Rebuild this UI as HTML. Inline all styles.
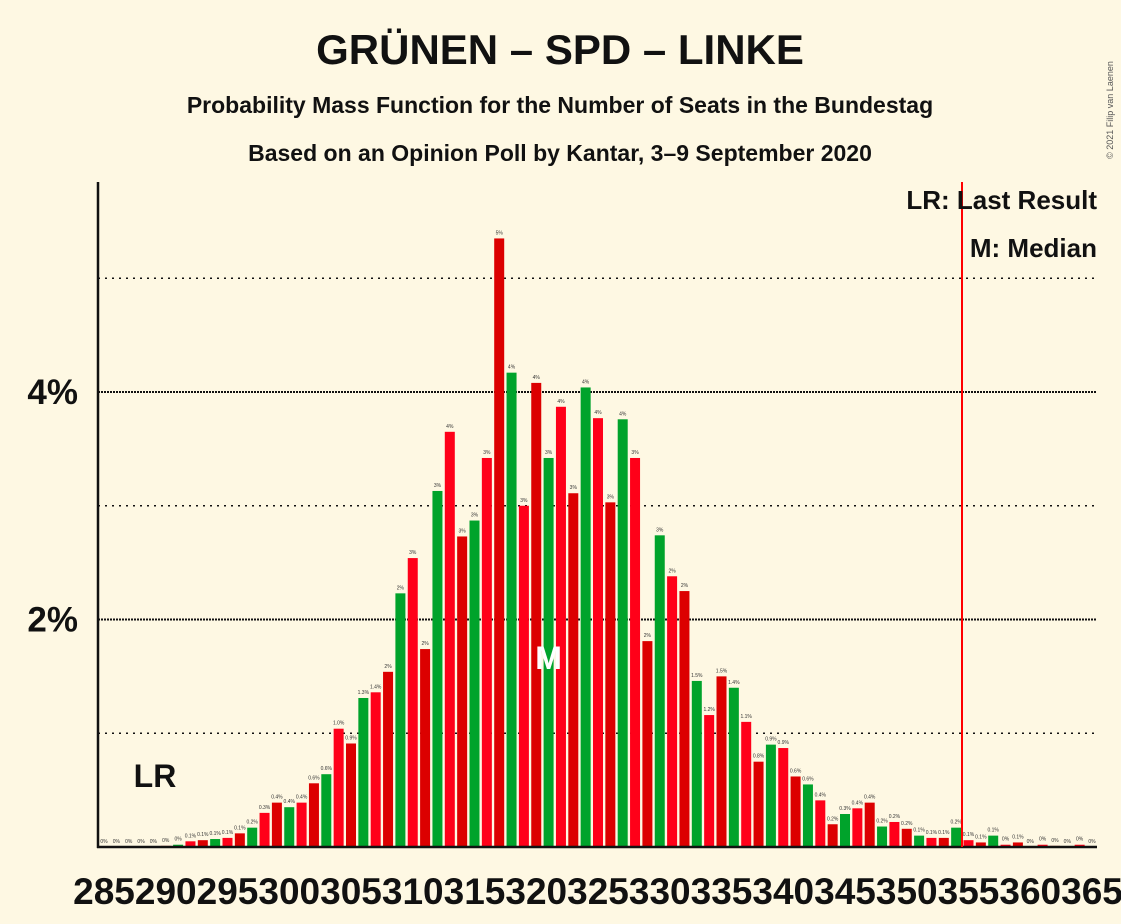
<!DOCTYPE html>
<html><head><meta charset="utf-8"><style>
body{margin:0;background:#fef8e3;}
svg{display:block;font-family:"Liberation Sans",sans-serif;}
</style></head><body>
<svg id="chart" width="1121" height="924" viewBox="0 0 1121 924">
<rect width="1121" height="924" fill="#fef8e3"/>
<text x="560" y="64" text-anchor="middle" font-size="42" font-weight="bold" fill="#111">GRÜNEN – SPD – LINKE</text>
<text x="560" y="113" text-anchor="middle" font-size="23" font-weight="bold" fill="#111">Probability Mass Function for the Number of Seats in the Bundestag</text>
<text x="560" y="161" text-anchor="middle" font-size="23" font-weight="bold" fill="#111">Based on an Opinion Poll by Kantar, 3–9 September 2020</text>
<text x="1113" y="110" font-size="9" fill="#555" transform="rotate(-90 1113 110)" text-anchor="middle">© 2021 Filip van Laenen</text>
<g id="grid"></g>
<g id="bars"></g>
<g id="labels"></g>
<g id="xticks"></g>
<line x1="98" y1="182" x2="98" y2="848" stroke="#111" stroke-width="2.5"/>
<line x1="97" y1="847" x2="1097" y2="847" stroke="#111" stroke-width="2.5"/>
<line x1="962" y1="182" x2="962" y2="847" stroke="#f00" stroke-width="2"/>
<text x="1097" y="209" text-anchor="end" font-size="26" font-weight="bold" fill="#111">LR: Last Result</text>
<text x="1097" y="257" text-anchor="end" font-size="26" font-weight="bold" fill="#111">M: Median</text>
<text x="155" y="787" text-anchor="middle" font-size="32" font-weight="bold" fill="#111">LR</text>
</svg>
<script>
const seats=[];for(let s=285;s<=365;s++)seats.push(s);
const probs=[0,0,0,0,0,0.01,0.02,0.05,0.06,0.07,0.08,0.12,0.17,0.3,0.39,0.35,0.39,0.56,0.64,1.04,0.91,1.31,1.36,1.54,2.23,2.54,1.74,3.13,3.65,2.73,2.87,3.42,5.35,4.17,3.0,4.08,3.42,3.87,3.11,4.04,3.77,3.03,3.76,3.42,1.81,2.74,2.38,2.25,1.46,1.16,1.5,1.4,1.1,0.75,0.9,0.87,0.62,0.55,0.41,0.2,0.29,0.34,0.39,0.18,0.22,0.16,0.1,0.08,0.08,0.17,0.06,0.04,0.1,0.02,0.04,0,0.02,0.01,0,0.02,0];
const valueLabels=["0%","0%","0%","0%","0%","0%","0%","0.1%","0.1%","0.1%","0.1%","0.1%","0.2%","0.3%","0.4%","0.4%","0.4%","0.6%","0.6%","1.0%","0.9%","1.3%","1.4%","2%","2%","3%","2%","3%","4%","3%","3%","3%","5%","4%","3%","4%","3%","4%","3%","4%","4%","3%","4%","3%","2%","3%","2%","2%","1.5%","1.2%","1.5%","1.4%","1.1%","0.8%","0.9%","0.9%","0.6%","0.6%","0.4%","0.2%","0.3%","0.4%","0.4%","0.2%","0.2%","0.2%","0.1%","0.1%","0.1%","0.2%","0.1%","0.1%","0.1%","0%","0.1%","0%","0%","0%","0%","0%","0%"];
const gridValues=[1,2,3,4,5];
const yTickValues=[2,4];
const xTickValues=[285,290,295,300,305,310,315,320,325,330,335,340,345,350,355,360,365];
const medianSeat=321;
const NS="http://www.w3.org/2000/svg";
function xPos(s){return 104+(s-285)*12.35;}
function yPos(v){return 847-v*113.75;}
function mk(tag,attrs,parent){const e=document.createElementNS(NS,tag);for(const k in attrs)e.setAttribute(k,attrs[k]);parent.appendChild(e);return e;}
const grid=document.getElementById('grid');
gridValues.forEach(v=>{
  const major=v%2===0;
  const l=mk('line',{x1:98,x2:1097,y1:yPos(v),y2:yPos(v),stroke:'#111','stroke-width':major?2:1.5,'stroke-dasharray':major?'2,1':'2,5'},grid);
  
  
});
yTickValues.forEach(v=>{
  const t=mk('text',{x:78,y:yPos(v)+12,'text-anchor':'end','font-size':35,'font-weight':'bold',fill:'#111'},grid);
  t.textContent=v+'%';
  
  
});
const bars=document.getElementById('bars'),labels=document.getElementById('labels');
seats.forEach((s,i)=>{
  const v=probs[i];const idx=s-285;
  let col;if(idx%3===0)col='#00a32b';else col=(idx%3===1)?'#ff0019':'#dc0000';
  const y=yPos(v);
  const r=mk('rect',{x:xPos(s)-5,y:y,width:10,height:847-y,fill:col},bars);
  
  
  const t=mk('text',{x:xPos(s),y:y-4,'text-anchor':'middle','font-size':5,fill:'#333'},labels);
  t.textContent=valueLabels[i];
  
  
});
const m=mk('text',{x:xPos(medianSeat),y:669,'text-anchor':'middle','font-size':32,'font-weight':'bold',fill:'#fff'},labels);
m.textContent='M';


const xt=document.getElementById('xticks');
xTickValues.forEach(s=>{
  const t=mk('text',{x:xPos(s),y:904,'text-anchor':'middle','font-size':37,'font-weight':'bold',fill:'#111'},xt);
  t.textContent=s;
  
  
});
</script>
</body></html>
